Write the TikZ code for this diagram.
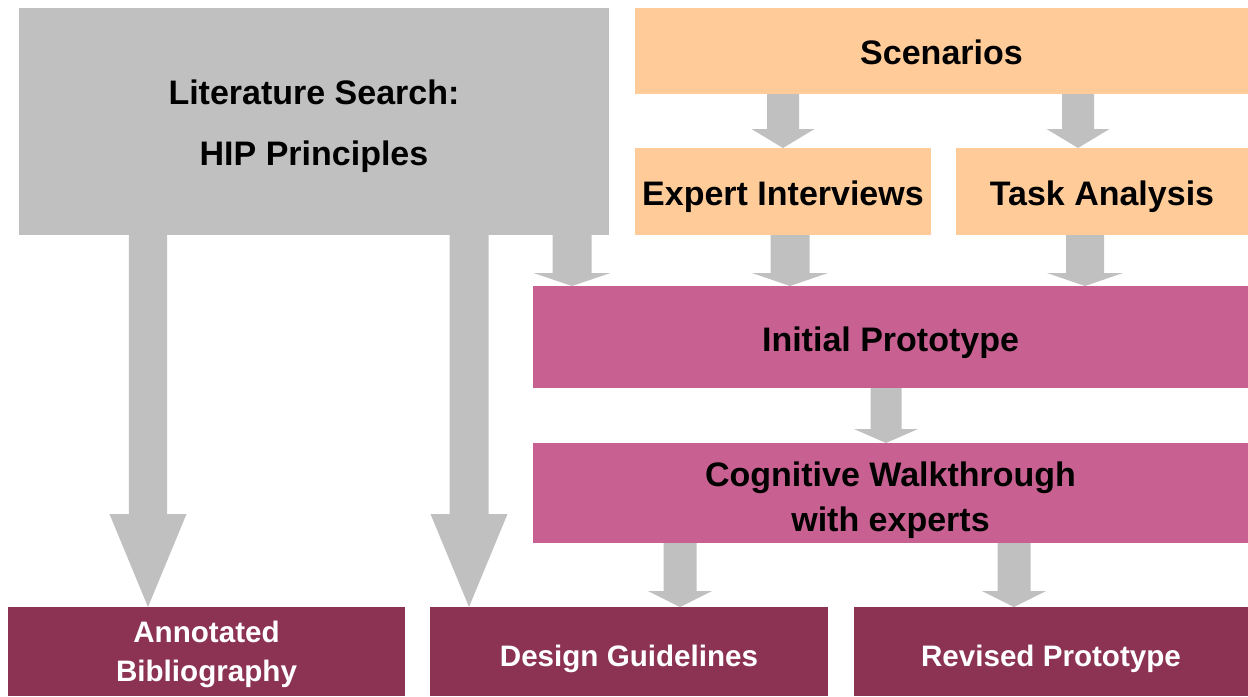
\documentclass[tikz,border=0pt]{standalone}
\usepackage{fontspec}
\setmainfont{Liberation Sans}
\usetikzlibrary{calc}
\definecolor{lgray}{HTML}{C0C0C0}
\definecolor{peach}{HTML}{FFCC99}
\definecolor{pinkbox}{HTML}{C86192}
\definecolor{boxmaroon}{HTML}{8C3252}
\newcommand\blockarrow[6]{% from, to, x, shaft half, head half, head length
  \fill[lgray] ($(#3,0 |- #1.south)+(-#4,0)$) -- ($(#3,0 |- #1.south)+(#4,0)$)
    -- ($(#3,0 |- #2.north)+(#4,-#6)$) -- ($(#3,0 |- #2.north)+(#5,-#6)$)
    -- (#3,0 |- #2.north)
    -- ($(#3,0 |- #2.north)+(-#5,-#6)$) -- ($(#3,0 |- #2.north)+(-#4,-#6)$) -- cycle;}
\begin{document}
\begin{tikzpicture}[x=0.75pt,y=-0.75pt,
  box/.style 2 args={inner sep=0pt, outer sep=0pt, anchor=north west,
    minimum width=#1*0.75pt, minimum height=#2*0.75pt},
  lbl/.style={inner sep=0pt, align=center},
  bigtext/.style={lbl, font=\bfseries\fontsize{25.5}{45.75}\selectfont},
  midtext/.style={lbl, font=\bfseries\fontsize{25.5}{33.75}\selectfont},
  smalltext/.style={lbl, font=\bfseries\fontsize{22.2}{29.25}\selectfont, text=white},
  graybox/.style={fill=lgray},
  peachbox/.style={fill=peach},
  pinkb/.style={fill=pinkbox},
  outbox/.style={fill=boxmaroon}]
\useasboundingbox (0,0) rectangle (1248,696);
\node[box={590}{227}, graybox] (lit) at (19,8) {};
\node[box={613}{86}, peachbox] (scen) at (635,8) {};
\node[box={296}{87}, peachbox] (exp) at (635,148) {};
\node[box={292}{87}, peachbox] (task) at (956,148) {};
\node[box={715}{102}, pinkb] (init) at (533,286) {};
\node[box={715}{100}, pinkb] (cog) at (533,443) {};
\node[box={397}{89}, outbox] (ann) at (8,607) {};
\node[box={398}{89}, outbox] (des) at (430,607) {};
\node[box={394}{89}, outbox] (rev) at (854,607) {};
\node[bigtext] (litT) at ($(lit.center)+(0,5)$) {Literature Search:\\HIP Principles};
\node[midtext] (scenT) at ($(scen.center)+(0,1)$) {Scenarios};
\node[midtext] (expT) at ($(exp.center)+(0,5)$) {Expert Interviews};
\node[midtext] (taskT) at ($(task.center)+(0,5)$) {Task Analysis};
\node[midtext] (initT) at ($(init.center)+(0,6)$) {Initial Prototype};
\node[midtext] (cogT) at ($(cog.center)+(0,7)$) {Cognitive Walkthrough\\with experts};
\node[smalltext] (annT) at ($(ann.center)+(0,3)$) {Annotated\\Bibliography};
\node[smalltext] (desT) at ($(des.center)+(0,7)$) {Design Guidelines};
\node[smalltext] (revT) at ($(rev.center)+(0,7)$) {Revised Prototype};
\blockarrow{scen}{exp}{783}{16}{31.5}{19}
\blockarrow{scen}{task}{1078}{16}{31.5}{19}
\blockarrow{lit}{init}{572}{19.5}{38.5}{13}
\blockarrow{exp}{init}{790}{19.5}{38}{13}
\blockarrow{task}{init}{1085}{19}{38}{13}
\blockarrow{init}{cog}{886}{15.5}{32}{14}
\blockarrow{cog}{des}{680}{16.5}{32}{16}
\blockarrow{cog}{rev}{1014}{16.5}{32}{16}
\blockarrow{lit}{ann}{148}{19.2}{38.5}{93}
\blockarrow{lit}{des}{469}{19.5}{38.5}{93}
\end{tikzpicture}
\end{document}
